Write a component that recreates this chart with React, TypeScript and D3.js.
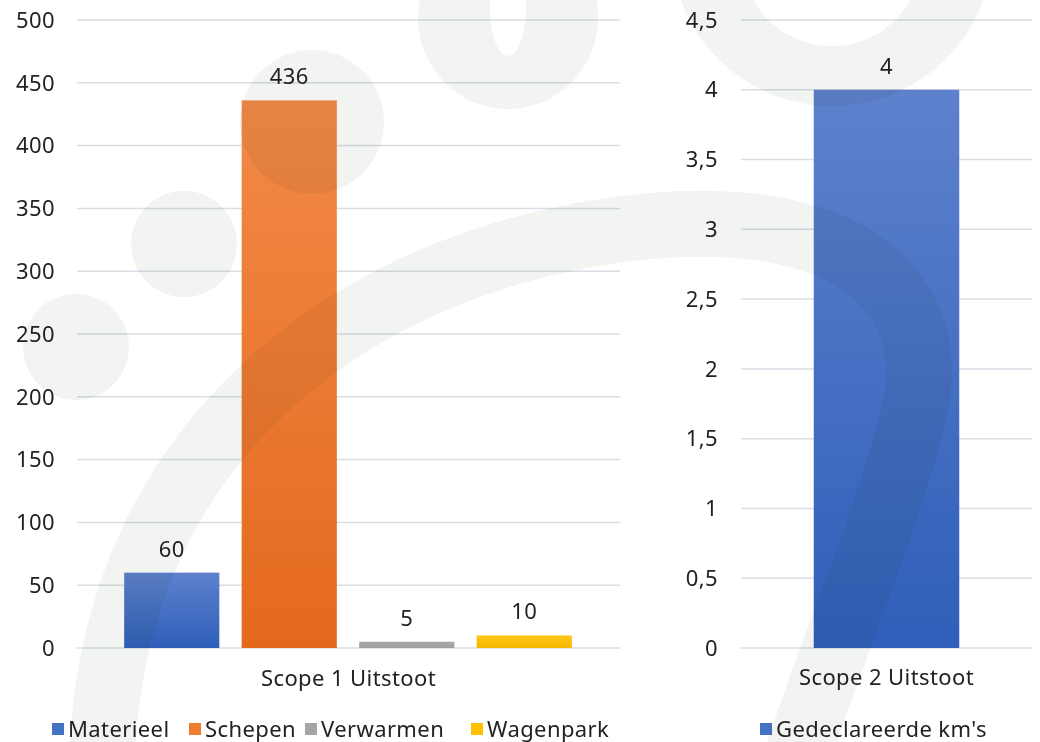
import { useEffect } from 'react';
import * as d3 from 'd3';

// Scope 1 data
const scope1Categories = ['Materieel', 'Schepen', 'Verwarmen', 'Wagenpark'];
const scope1Values = [60, 436, 5, 10];
const scope1Group = 'Scope 1 Uitstoot';
const scope1Ticks = [0, 50, 100, 150, 200, 250, 300, 350, 400, 450, 500];

// Scope 2 data
const scope2Categories = ["Gedeclareerde km's"];
const scope2Values = [4];
const scope2Group = 'Scope 2 Uitstoot';
const scope2Ticks = [0, 0.5, 1, 1.5, 2, 2.5, 3, 3.5, 4, 4.5];

const swatch: Record<string, string> = {
  Materieel: '#4472c4',
  Schepen: '#ed7d31',
  Verwarmen: '#a5a5a5',
  Wagenpark: '#ffc000',
  "Gedeclareerde km's": '#4472c4',
};
const gradStops: Record<string, [string, string]> = {
  Materieel: ['#5e81cd', '#2f5fb9'],
  Schepen: ['#f28a48', '#e4691d'],
  Verwarmen: ['#a9a9a9', '#9f9f9f'],
  Wagenpark: ['#ffc71a', '#f5b800'],
  "Gedeclareerde km's": ['#5e81cd', '#2f5fb9'],
};

const FONT = '"Noto Sans", sans-serif';
const FS = 22;
const LS = 0.4;
const W = 1040;
const H = 742;
const top = 20;
const base = 648;
const comma = (v: number) => String(v).replace('.', ',');

const gid = (c: string) => 'g' + c.replace(/[^a-z]/gi, '');

export default function App() {
  useEffect(() => {
    document.body.style.margin = '0';
  }, []);

  // left chart scales
  const y1 = d3.scaleLinear().domain([0, 500]).range([base, top]);
  const g1 = d3.scaleBand<string>().domain([scope1Group]).range([77, 620]);
  const x1 = d3
    .scaleBand<string>()
    .domain(scope1Categories)
    .range([113, 583])
    .paddingInner(0.19)
    .paddingOuter(0.095);

  // right chart scales
  const y2 = d3.scaleLinear().domain([0, 4.5]).range([base, top]);
  const g2 = d3.scaleBand<string>().domain([scope2Group]).range([741, 1032]);
  const x2 = d3
    .scaleBand<string>()
    .domain(scope2Categories)
    .range([741, 1032])
    .paddingInner(0.5)
    .paddingOuter(0.25);

  const legend1X = [52, 189, 305, 471];
  const legend2X = [760];
  const ink = '#222';
  const wm = '#f2f4f1';

  return (
    <svg
      width={W}
      height={H}
      style={{ display: 'block', background: '#fff' }}
      fontFamily={FONT}
      fontSize={FS}
      letterSpacing={LS}
      fill={ink}
    >
      <defs>
        {Object.keys(gradStops).map((c) => (
          <linearGradient key={c} id={gid(c)} x1="0" y1="0" x2="0" y2="1">
            <stop offset="0%" stopColor={gradStops[c][0]} />
            <stop offset="100%" stopColor={gradStops[c][1]} />
          </linearGradient>
        ))}
      </defs>

      {/* left gridlines + ticks */}
      {scope1Ticks.map((t) => (
        <g key={'l' + t}>
          <line x1={77} x2={620} y1={y1(t)} y2={y1(t)} stroke="#d9dde5" strokeWidth={1.5} />
          <text x={55} y={y1(t)} dy="0.35em" textAnchor="end">
            {t}
          </text>
        </g>
      ))}
      {scope1Categories.map((c, i) => (
        <g key={c}>
          <rect
            x={x1(c)}
            y={y1(scope1Values[i])}
            width={x1.bandwidth()}
            height={base - y1(scope1Values[i])}
            fill={`url(#${gid(c)})`}
          />
          <text
            x={(x1(c) as number) + x1.bandwidth() / 2}
            y={y1(scope1Values[i]) - 16}
            textAnchor="middle"
          >
            {scope1Values[i]}
          </text>
        </g>
      ))}
      <text x={(g1(scope1Group) as number) + g1.bandwidth() / 2} y={686} textAnchor="middle">
        {scope1Group}
      </text>
      {scope1Categories.map((c, i) => (
        <g key={'lg' + c}>
          <rect x={legend1X[i]} y={723} width={12} height={12} fill={swatch[c]} />
          <text x={legend1X[i] + 16} y={729} dy="0.35em">
            {c}
          </text>
        </g>
      ))}

      {/* right gridlines + ticks */}
      {scope2Ticks.map((t) => (
        <g key={'r' + t}>
          <line x1={741} x2={1032} y1={y2(t)} y2={y2(t)} stroke="#d9dde5" strokeWidth={1.5} />
          <text x={718} y={y2(t)} dy="0.35em" textAnchor="end">
            {comma(t)}
          </text>
        </g>
      ))}
      {scope2Categories.map((c, i) => (
        <g key={c}>
          <rect
            x={x2(c)}
            y={y2(scope2Values[i])}
            width={x2.bandwidth()}
            height={base - y2(scope2Values[i])}
            fill={`url(#${gid(c)})`}
          />
          <text
            x={(x2(c) as number) + x2.bandwidth() / 2}
            y={y2(scope2Values[i]) - 16}
            textAnchor="middle"
          >
            {comma(scope2Values[i])}
          </text>
        </g>
      ))}
      <text x={(g2(scope2Group) as number) + g2.bandwidth() / 2} y={685} textAnchor="middle">
        {scope2Group}
      </text>
      {scope2Categories.map((c, i) => (
        <g key={'lg' + c}>
          <rect x={legend2X[i]} y={723} width={12} height={12} fill={swatch[c]} />
          <text x={legend2X[i] + 16} y={729} dy="0.35em">
            {c}
          </text>
        </g>
      ))}

      {/* faint background watermark, multiplied over the chart */}
      <g style={{ mixBlendMode: 'multiply' }} fill={wm}>
        <circle cx={184} cy={244} r={53} />
        <circle cx={76} cy={347} r={53} />
        <circle cx={312} cy={122} r={72} />
        <path
          fillRule="evenodd"
          d="M508,-75 a90,92 0 1,0 0.1,0 Z M508,-40 a18,48 0 1,1 -0.1,0 Z"
        />
        <path
          fillRule="evenodd"
          d="M832,-210 a160,158 0 1,0 0.1,0 Z M832,-134 a90,90 0 1,1 -0.1,0 Z"
        />
        <path
          fill="none"
          stroke={wm}
          strokeWidth={66}
          d="M102,760 C112,430 370,252 650,226 C860,208 945,300 912,420 C888,520 835,640 796,760"
        />
      </g>
    </svg>
  );
}
